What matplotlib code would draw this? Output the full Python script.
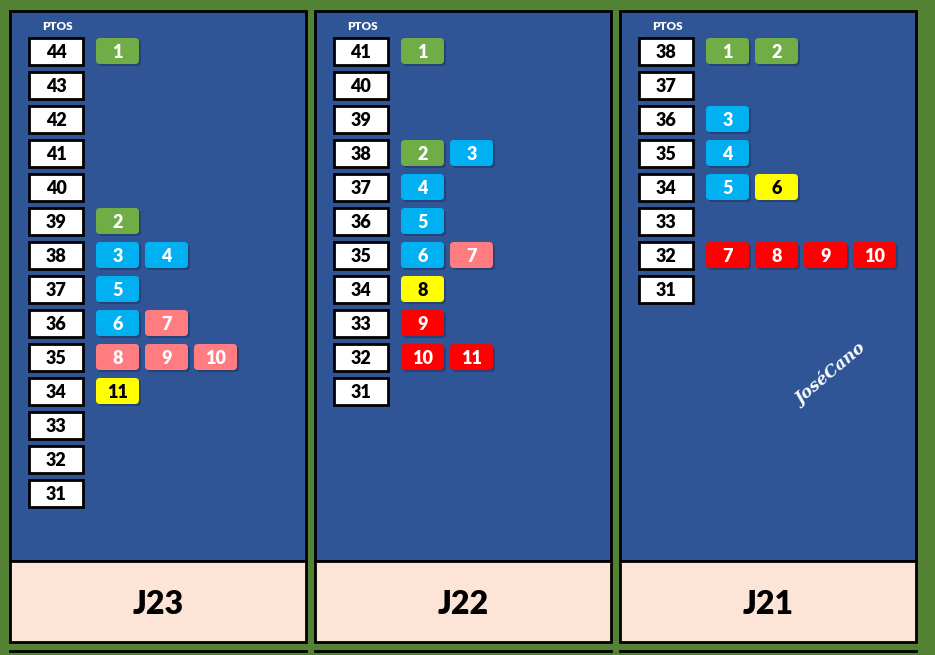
import matplotlib
matplotlib.use("Agg")
from matplotlib import pyplot as plt
from matplotlib.patches import Rectangle, FancyBboxPatch

# jornadas shown left to right
jornadas = ["J23", "J22", "J21"]

# points column for each jornada (top to bottom)
points_j23 = [44, 43, 42, 41, 40, 39, 38, 37, 36, 35, 34, 33, 32, 31]
points_j22 = [41, 40, 39, 38, 37, 36, 35, 34, 33, 32, 31]
points_j21 = [38, 37, 36, 35, 34, 33, 32, 31]

# points of each team, ordered by position 1..n
team_pts_j23 = [44, 39, 38, 38, 37, 36, 36, 35, 35, 35, 34]
team_pts_j22 = [41, 38, 38, 37, 36, 35, 35, 34, 33, 32, 32]
team_pts_j21 = [38, 38, 36, 35, 34, 34, 32, 32, 32, 32]

# colour group of each position: g=green, c=cyan, p=pink, y=yellow, r=red
groups_j23 = ["g", "g", "c", "c", "c", "c", "p", "p", "p", "p", "y"]
groups_j22 = ["g", "g", "c", "c", "c", "c", "p", "y", "r", "r", "r"]
groups_j21 = ["g", "g", "c", "c", "c", "y", "r", "r", "r", "r"]

palette = {"g": "#70AD47", "c": "#00B0F0", "p": "#FF7C80",
           "y": "#FFFF00", "r": "#FF0000"}


def draw_panel(ax, x0, name, points, team_pts, groups):
    ax.add_patch(Rectangle((x0, 11), 296, 550, facecolor="#2F5597",
                           edgecolor="black", lw=2, zorder=1))
    ax.add_patch(Rectangle((x0, 561), 296, 81, facecolor="#FCE4D6",
                           edgecolor="black", lw=2, zorder=1))
    ax.text(x0 + 148, 605, name, ha="center", va="center", fontsize=23,
            fontweight="heavy", family="Lato", zorder=3)
    ax.text(x0 + 47, 26, "PTOS", ha="center", va="center", fontsize=8.5,
            fontweight="heavy", color="white", family="Lato", zorder=3)

    row_y = {}
    for i, p in enumerate(points):
        y = 51 + 34 * i
        row_y[p] = y
        ax.add_patch(Rectangle((x0 + 19, y - 13), 54, 27, facecolor="white",
                               edgecolor="black", lw=2, zorder=2))
        ax.text(x0 + 46, y + 1, str(p), ha="center", va="center",
                fontsize=13, fontweight="heavy", family="Lato", zorder=3)

    used = {}
    for pos, (p, g) in enumerate(zip(team_pts, groups), start=1):
        k = used.get(p, 0)
        used[p] = k + 1
        bx = x0 + 86 + 49 * k
        y = row_y[p]
        ax.add_patch(FancyBboxPatch((bx + 2, y - 11), 43, 26,
                                    boxstyle="round,pad=0,rounding_size=4",
                                    facecolor="#1f3560", edgecolor="none",
                                    alpha=0.6, zorder=2))
        ax.add_patch(FancyBboxPatch((bx, y - 13), 43, 26,
                                    boxstyle="round,pad=0,rounding_size=4",
                                    facecolor=palette[g], edgecolor="none",
                                    zorder=3))
        ax.text(bx + 21.5, y + 1, str(pos), ha="center", va="center",
                fontsize=13, fontweight="heavy", family="Lato",
                color="black" if g == "y" else "white", zorder=4)


def main():
    fig = plt.figure(figsize=(9.35, 6.55), dpi=100)
    fig.patch.set_facecolor("#548235")
    ax = fig.add_axes([0, 0, 1, 1])
    ax.set_xlim(0, 935)
    ax.set_ylim(655, 0)
    ax.axis("off")

    data = [(points_j23, team_pts_j23, groups_j23),
            (points_j22, team_pts_j22, groups_j22),
            (points_j21, team_pts_j21, groups_j21)]
    for i, name in enumerate(jornadas):
        pts, tp, gr = data[i]
        draw_panel(ax, 10 + 305 * i, name, pts, tp, gr)

    # start of next row of panels at the bottom edge
    for i in range(3):
        ax.plot([10 + 305 * i, 306 + 305 * i], [651, 651], color="black",
                lw=2, zorder=2)

    ax.text(831, 375, "JoséCano", ha="center", va="center", rotation=40,
            fontsize=12, fontweight="bold", style="italic", color="white",
            family="DejaVu Serif", zorder=3)

    fig.savefig("out.png", dpi=100, facecolor=fig.get_facecolor())


if __name__ == "__main__":
    main()
